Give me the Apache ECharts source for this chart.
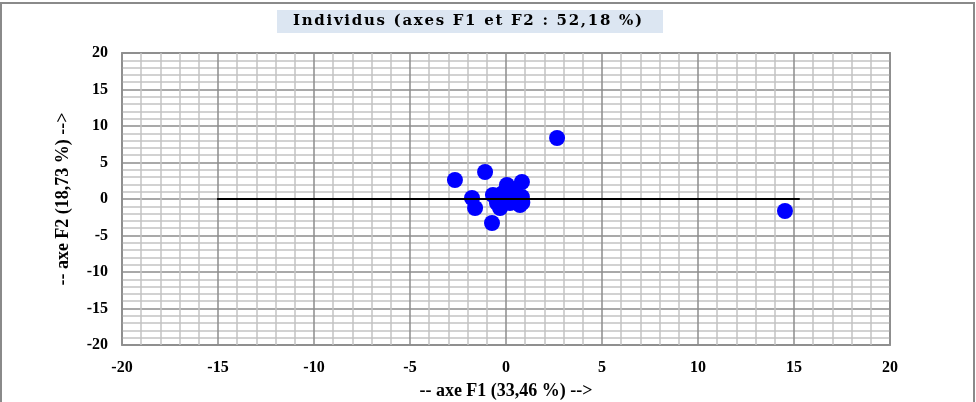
<!DOCTYPE html>
<html>
<head>
<meta charset="utf-8">
<style>html,body{margin:0;padding:0;background:#fff;}#c{width:976px;height:402px;}</style>
<script src="https://cdn.jsdelivr.net/npm/echarts@6/dist/echarts.min.js"></script>
</head>
<body>
<div id="c"></div>
<script>
const titleText = 'Individus (axes F1 et F2 : 52,18 %)';
const xAxisName = '-- axe F1 (33,46 %) -->';
const yAxisName = '-- axe F2 (18,73 %) -->';
const f1 = [-1.09, -1.77, -1.61, -0.73, 0.05, 0.83, -0.68, -0.16, -0.31, 0.83, 0.73, 0.21, -0.47, 0.36, -2.66, 2.66, 14.53, 0.85, -0.05, 0.55];
const f2 = [3.7, 0.14, -1.23, -3.29, 1.92, 2.33, 0.55, 0.82, -1.23, 0.27, -0.82, -0.55, -0.55, 1.23, 2.6, 8.36, -1.64, -0.5, -0.1, 0.3];
const axisLineX = [-15.05, 15.3];
const axisLineY = [0, 0];

const chart = echarts.init(document.getElementById('c'));
const font = '"Liberation Serif", "Times New Roman", serif';
const points = f1.map((v, i) => [v, f2[i]]);
const line = axisLineX.map((v, i) => [v, axisLineY[i]]);

// title laid out with slight letter spacing
const titleFont = 'bold 15px "DejaVu Serif", serif';
const cv = document.createElement('canvas').getContext('2d');
cv.font = titleFont;
const chars = Array.from(titleText);
const widths = chars.map(c => cv.measureText(c).width);
const targetW = 349;
const sumW = widths.reduce((a, b) => a + b, 0);
const sp = Math.max(0, (targetW - sumW) / (chars.length - 1));
let cx = 293;
const titleChars = chars.map((c, i) => {
  const g = {type: 'text', x: cx, y: 21, style: {text: c, fill: '#000', font: titleFont, align: 'left', verticalAlign: 'middle'}, silent: true};
  cx += widths[i] + sp;
  return g;
});

const axisCommon = {
  type: 'value', min: -20, max: 20, interval: 5,
  axisLine: {show: false}, axisTick: {show: false},
  axisLabel: {color: '#000', fontFamily: font, fontWeight: 'bold', fontSize: 16},
  splitLine: {show: true, lineStyle: {color: '#8c8c8c', width: 1.5}},
  minorTick: {show: false, splitNumber: 5},
  minorSplitLine: {show: true, lineStyle: {color: '#c4c4c4', width: 1.5}},
  nameLocation: 'middle',
  nameTextStyle: {color: '#000', fontFamily: font, fontWeight: 'bold', fontSize: 18}
};
chart.setOption({
  animation: false,
  grid: {left: 122, right: 86, top: 53, bottom: 57, show: true, borderColor: '#999', borderWidth: 2, outerBoundsMode: 'none', containLabel: false},
  graphic: [
    {type: 'rect', shape: {x: 1, y: 3, width: 973, height: 410}, style: {fill: 'none', stroke: '#8a8a8a', lineWidth: 2}, silent: true},
    {type: 'rect', shape: {x: 277, y: 10, width: 386, height: 23}, style: {fill: '#dce6f2'}, silent: true}
  ].concat(titleChars),
  xAxis: Object.assign({}, axisCommon, {name: xAxisName, nameGap: 37, axisLabel: Object.assign({}, axisCommon.axisLabel, {margin: 15})}),
  yAxis: Object.assign({}, axisCommon, {name: yAxisName, nameGap: 50, axisLabel: Object.assign({}, axisCommon.axisLabel, {margin: 14})}),
  series: [
    {type: 'scatter', data: points, symbolSize: 16, itemStyle: {color: '#0000ff', opacity: 1}, z: 2},
    {type: 'line', data: line, symbol: 'none', lineStyle: {color: '#000', width: 2}, z: 3}
  ]
});
</script>
</body>
</html>
